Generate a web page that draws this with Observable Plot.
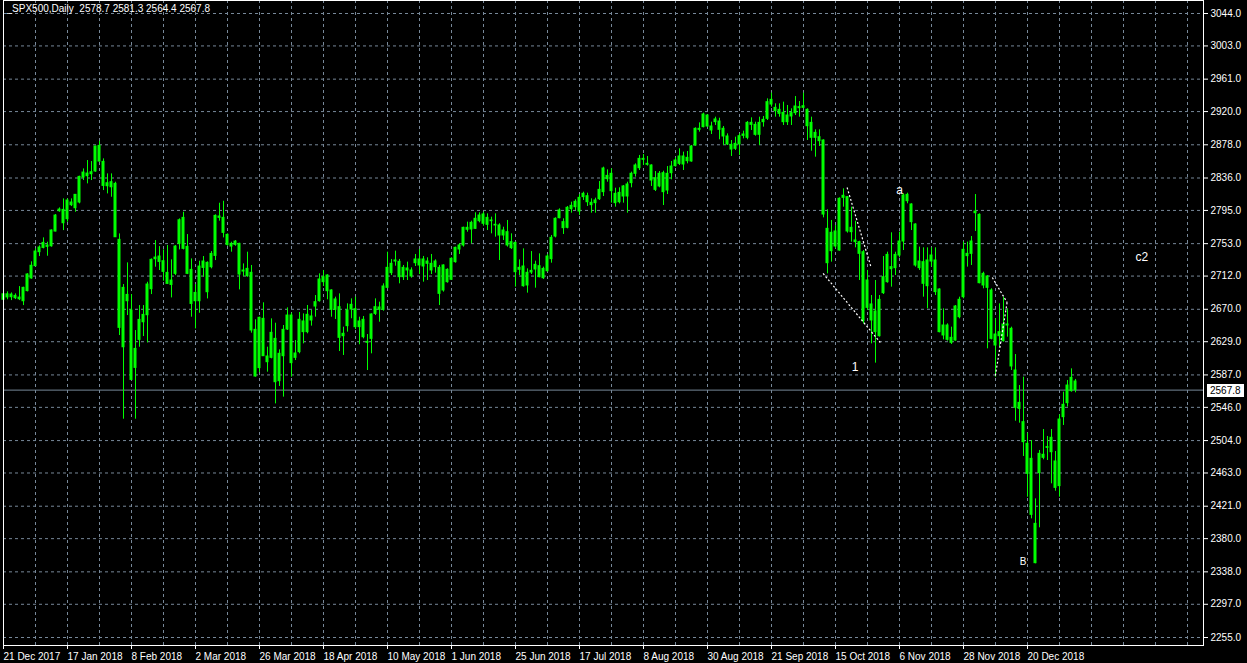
<!DOCTYPE html>
<html><head><meta charset="utf-8">
<script src="https://cdn.jsdelivr.net/npm/d3@7"></script>
<script src="https://cdn.jsdelivr.net/npm/@observablehq/plot@0.6"></script>
<style>
html,body{margin:0;padding:0;background:#000;overflow:hidden}
svg{display:block}
</style></head><body><div id="chart"></div>
<script>
// ---- data ----
const open = [2682,2685,2688.6,2684,2684.8,2680.2,2693,2709,2724.5,2742.2,2747.6,2750.6,2749.7,2768.3,2794,2795.7,2783.9,2801.6,2797.8,2805,2836.6,2841.6,2840.8,2844.2,2876.6,2856.4,2825.6,2830.7,2828.6,2757.8,2622,2688.2,2668.4,2595.9,2631.3,2653.6,2662.5,2695.4,2733.3,2736.7,2730.8,2716,2700.8,2714.8,2752.7,2785.6,2748.9,2719.8,2680.2,2680.2,2722.3,2691.6,2723.2,2737.5,2787.3,2785.6,2764.1,2749.3,2751.4,2752.7,2719,2711.8,2716.1,2644,2595.6,2657.9,2610.3,2608.6,2632.6,2579.1,2610.7,2644.4,2662.1,2608.6,2615.8,2654.6,2641.1,2660.9,2673.5,2680.3,2704.3,2712.7,2693.8,2669.3,2672.7,2636,2648.7,2669.7,2670.1,2647.4,2656.7,2627.6,2632.6,2664.2,2672.3,2669.3,2697.1,2715.7,2730.4,2730,2710.6,2721.6,2719.1,2728.3,2733,2724.1,2730.4,2727.5,2723.3,2722.4,2693.8,2719.9,2707.3,2729.6,2745.6,2750.7,2770.5,2770.9,2771.7,2781.4,2789.9,2776.8,2782.3,2776.8,2776,2763.3,2767.5,2747.3,2754,2719.9,2724.1,2700.1,2716.5,2720.3,2724.5,2709.3,2718.2,2733.4,2762,2785.2,2780.2,2773,2796.6,2799.1,2793.6,2811.8,2813,2804.6,2804.2,2809.2,2818.1,2838.7,2841.3,2816,2805.4,2825.3,2812.6,2829.5,2841.3,2848.4,2860.2,2853.9,2851.8,2835.8,2825.3,2842.1,2820.2,2842.1,2851,2853.9,2863.2,2857.3,2856.9,2877.1,2896.9,2900.3,2915,2901.1,2906.6,2907.4,2898.2,2888.5,2877.9,2872.9,2878.4,2889.3,2886.8,2903.2,2903.2,2890.6,2906.6,2910.8,2934.8,2924.7,2917.1,2918.4,2906.6,2913.8,2918,2925.6,2924.7,2922.2,2905.7,2886.8,2887.6,2883.4,2771.7,2743.5,2768.4,2744.3,2813.5,2811.8,2767.5,2757,2754.9,2742.2,2671.8,2676.1,2667.2,2636,2690.4,2704.3,2723.3,2722,2738,2755.7,2814.7,2802.5,2777.2,2730.4,2729.6,2699.2,2730.4,2731.7,2695,2636.9,2649.5,2627.6,2630.5,2660,2685.3,2740.1,2740.1,2791.5,2789.4,2700.1,2711.5,2693.8,2624.2,2641.1,2629.7,2650.8,2645.3,2592.6,2551.7,2527.3,2499.9,2480.9,2398.7,2462.8,2486,2494.8,2489.3,2477.6,2446.4,2533.6,2551.3,2566.5,2578.7];
const high = [2696,2692,2690.7,2689.5,2698.7,2697.9,2715,2730,2746.4,2750.2,2760.3,2754.8,2770.4,2789.8,2798.2,2809.6,2809.6,2809.6,2815.1,2838.3,2847.5,2858.1,2856.8,2876.2,2882.5,2860.2,2841.2,2841.2,2830.7,2765.3,2701.3,2728.7,2688.6,2643.1,2674.7,2674.7,2704.2,2733.7,2756.9,2749.3,2745.1,2750.6,2732.5,2750.6,2784.3,2792.7,2764.5,2733.7,2701.3,2730.8,2736.7,2730,2743,2789.4,2804.1,2806.6,2765.3,2754.8,2756.9,2753.5,2727.4,2742.2,2725.4,2656.7,2660,2678.2,2622.1,2657.9,2652.4,2618.7,2649.5,2671.8,2665.1,2630.5,2665.9,2664.2,2674.8,2668.5,2687.4,2714.8,2719.1,2713.6,2694.6,2685.3,2689.5,2647.4,2676.9,2683.2,2685.3,2660,2660.9,2638.1,2664.2,2683.2,2679,2702.2,2742.2,2733,2743.5,2733,2725.4,2729.6,2722.4,2739.3,2745.6,2736.8,2735.1,2739.3,2732.5,2725.4,2726.2,2721.2,2735.1,2748.6,2752.8,2773.8,2780.2,2781.4,2792,2792,2792.8,2790.7,2786.5,2790.7,2778.1,2773.8,2782.3,2765.4,2754.9,2732.5,2746.4,2721.1,2743,2730.8,2740.1,2723.3,2739.3,2763.3,2785.6,2797,2784.4,2800,2805.4,2808.4,2815.1,2818.1,2816.8,2809.7,2810.5,2831.6,2849.7,2846.3,2847.6,2823.1,2823.6,2826.5,2830.7,2843.4,2853.9,2864.5,2865.7,2863.2,2852.7,2844.2,2844.2,2844.6,2850.5,2856.9,2861.5,2872.9,2868.7,2869.5,2877.1,2899.4,2905.7,2918,2915.9,2906.6,2912.9,2911.6,2901.1,2891.8,2883.4,2887.6,2891.8,2895.2,2907.4,2912.1,2906.6,2912.9,2913.8,2936.1,2943.3,2929.8,2929.8,2931.9,2927.7,2923.5,2939,2932.7,2943.3,2923.5,2912.9,2896.9,2896.9,2884.3,2795.8,2782.3,2775.9,2810.9,2822.3,2812.6,2799.1,2781.4,2756.1,2744.3,2719.1,2687.4,2706.4,2687.4,2736.7,2742.2,2766.7,2742.2,2767.5,2816,2816.8,2803.4,2778.1,2748.6,2747.7,2747.7,2747.7,2747.7,2695.9,2670.6,2651.6,2647.4,2674.8,2685.3,2754.9,2754.9,2762,2815.1,2790.7,2716.9,2712.7,2695.9,2657.9,2676.9,2685.3,2670.6,2647.4,2612.8,2573.6,2584.2,2513.4,2504.1,2430.3,2491.5,2518,2509.2,2518,2490.2,2536.6,2565.2,2580,2594.7,2581.3];
const low = [2680,2682,2681,2682.3,2681,2674.7,2692,2708,2724,2736.7,2746.4,2737.1,2748.5,2767.9,2792.7,2769.5,2780.1,2799.9,2792.7,2803.3,2832.8,2828.6,2832.8,2843.3,2856,2820.1,2815.9,2811.7,2761,2636.8,2531,2662.1,2579.9,2531,2622,2635.5,2627.5,2688.6,2723.2,2719,2705.5,2701.3,2684.4,2712.6,2745.1,2745.1,2713.9,2660,2645.2,2665,2710.5,2683.1,2721.1,2731.6,2781.4,2760.3,2749.7,2742.2,2749.7,2694.5,2711.4,2710.5,2639.8,2584.2,2590,2610.3,2590.5,2607.3,2550.4,2572.4,2558.9,2643.2,2584.2,2605.2,2613.7,2626.3,2639,2648.7,2660,2679,2698.8,2682,2660,2657.1,2616.6,2611.6,2641.1,2658,2644.4,2625.1,2632.6,2592.6,2613.7,2662.1,2653.7,2667.6,2695.9,2712.7,2724.5,2702.2,2706.4,2706.4,2709.4,2724.1,2714,2704.3,2706.4,2714,2715.7,2674.8,2691.7,2703,2706.4,2728.3,2739.3,2748.6,2767.5,2752.8,2770.9,2779.3,2775.1,2769.6,2765.4,2761.2,2731.7,2757,2748.6,2745.6,2698,2712.7,2698,2690.4,2714,2696.7,2709.8,2707.7,2716.9,2728.3,2760.3,2784.4,2764.6,2771.7,2791.5,2794.9,2788.6,2807.6,2800,2791.5,2791.5,2807.6,2812.6,2830.7,2804.2,2799.1,2803.3,2804.2,2791.5,2823.6,2837.1,2845.5,2851.8,2851,2825.3,2818.9,2823.6,2801.2,2815.1,2833.7,2849.7,2851.8,2845.5,2853.9,2856,2876.2,2894,2899.4,2900.3,2891,2902.4,2884.3,2877.1,2877.1,2863.2,2870.8,2864.5,2885.5,2884.3,2896.1,2888.9,2877.1,2900.3,2908.7,2925.6,2912.9,2912.9,2902.4,2902.4,2902.4,2915,2912.9,2923.5,2883.4,2869.9,2862.3,2875.8,2785.6,2714.8,2729.6,2746.5,2743.5,2799.1,2766.3,2754.9,2747.7,2706.4,2651.6,2668.5,2626.3,2601.9,2634.8,2688.7,2703,2698,2712.7,2735.1,2744.3,2803.4,2769.6,2723.3,2719.1,2685.3,2670.6,2723.3,2687.4,2640.2,2631.4,2629.7,2625.5,2629.7,2657.9,2683.2,2723.3,2725.4,2768.4,2702.2,2695.9,2620,2631.4,2584.2,2622.1,2628.4,2634.8,2592.6,2528.5,2526,2483.9,2432.4,2405,2348.2,2393.7,2479.7,2478.8,2449.3,2440,2432.4,2523.1,2546.3,2565.2,2564.4];
const close = [2689,2689,2685.3,2687,2682.7,2697.1,2714,2725,2743,2748.1,2754,2748.9,2769.6,2788.5,2796.1,2778.8,2807.5,2805,2814.7,2837.4,2842.9,2838.3,2843.3,2875.8,2856.8,2826,2829.4,2824.3,2761.1,2646.5,2697.1,2680.2,2580.7,2619.9,2656.6,2662.9,2701.3,2732.5,2735.4,2729.9,2717.3,2702.1,2706.3,2749.3,2782.6,2746.4,2714.8,2676.8,2690.7,2724,2730.4,2728.7,2740,2788.1,2785.6,2766.6,2751.4,2752.7,2755.6,2713.9,2717.7,2721.1,2643.2,2585,2659.2,2610.7,2603.1,2640.2,2577.8,2613.7,2644,2662.1,2601.9,2614.1,2656.7,2641.1,2663,2655.8,2679,2707.7,2710.6,2692.9,2669.3,2682.4,2633.9,2639,2668.5,2675.6,2647.4,2654.6,2634.7,2628.8,2663.4,2672.7,2669.3,2698.8,2722.4,2727.5,2731.7,2710.6,2722.4,2719.1,2711.5,2733,2725.4,2733,2727.5,2719.1,2730.4,2689.5,2725.4,2704.3,2733.8,2747.7,2750.7,2773,2773,2779.3,2784.4,2788.6,2778.1,2785.6,2781.4,2776,2763.3,2769.6,2750.7,2754.9,2716.9,2722.4,2699.2,2716.1,2718.6,2726.2,2710.6,2721.1,2736.7,2760.3,2784.4,2794.9,2772.6,2798.3,2800.8,2805.9,2810.9,2816,2805.4,2801.7,2807.6,2821,2848,2834.5,2819.4,2804.2,2817.2,2812.6,2827.8,2841.3,2851.8,2860.2,2859,2852.7,2832.8,2821,2841.3,2818.1,2841.3,2850.5,2858.1,2863.2,2853.1,2861.5,2875.8,2898.2,2898.2,2916.3,2901.1,2896.1,2910,2896.9,2888.5,2878.4,2872,2879.2,2888.9,2891,2905.7,2905.7,2890.6,2905.7,2909.5,2931.9,2928.9,2920.5,2922.2,2906.6,2915,2918,2926.4,2924.3,2926.8,2901.5,2886.8,2893.1,2882.6,2789.8,2728.3,2766.7,2749.4,2809.7,2810.9,2768.4,2773,2754.9,2740.1,2654.9,2706.4,2655.8,2641.1,2681.9,2710.6,2738.8,2720.7,2738.8,2755.7,2813.9,2806.7,2780.2,2725.4,2722,2702.2,2731.7,2738,2691.7,2641.1,2649.5,2631.4,2633.9,2673.5,2682,2745.2,2737.2,2755.7,2793.6,2703,2714.8,2697.1,2632.6,2638.1,2636,2650.8,2649.5,2597.7,2545.4,2544.1,2502,2461.9,2410.1,2349,2487.2,2482.2,2495.7,2507.5,2444.2,2530.6,2549.2,2573.6,2583.3,2567.8];

const xTickIndex = [0,16,32,48,64,80,96,112,128,144,160,176,192,208,224,240,256];
const xTickLabels = ["21 Dec 2017","17 Jan 2018","8 Feb 2018","2 Mar 2018","26 Mar 2018","18 Apr 2018","10 May 2018","1 Jun 2018","25 Jun 2018","17 Jul 2018","8 Aug 2018","30 Aug 2018","21 Sep 2018","15 Oct 2018","6 Nov 2018","28 Nov 2018","20 Dec 2018"];
const yTicks = [3044,3003,2961,2920,2878,2836,2795,2753,2712,2670,2629,2587,2546,2504,2463,2421,2380,2338,2297,2255];

const titleText = "_SPX500,Daily\u00a0\u00a02578.7 2581.3 2564.4 2567.8";

// wave annotations (bar index / price)
const waveText = ["a","1","B","c2"];
const waveIdx = [224,212.9,254.9,284.6];
const wavePrice = [2820,2597,2350.5,2736];
const waveSize = [12,12,10,12];
const lineIdx1 = [204.9,210.9,247.2,250.9];
const linePrice1 = [2715.3,2824,2710.2,2678.6];
const lineIdx2 = [219.2,216.9,250.9,247.9];
const linePrice2 = [2628,2722.9,2678.6,2583.8];

// ---- build ----
const bars = open.map((o,i)=>({i, o, h:high[i], l:low[i], c:close[i]}));
const waves = waveText.map((t,k)=>({t, x:waveIdx[k], y:wavePrice[k], s:waveSize[k]}));
const links = lineIdx1.map((x1,k)=>({x1, y1:linePrice1[k], x2:lineIdx2[k], y2:linePrice2[k]}));
const last = close[close.length-1];
const GRID = "#778899", CANDLE = "#00ff00";
const gridIdx = d3.range(0, 300, 8);

const priceBox = (index, scales, values, dimensions) => {
  const y = Math.round(scales.y(last));
  const x = dimensions.width - dimensions.marginRight + 4;
  const g = d3.create("svg:g");
  g.append("rect").attr("x", x).attr("y", y-6).attr("width", 37).attr("height", 13).attr("fill", "#fff");
  g.append("text").attr("x", x+3).attr("y", y+0.5).attr("dy","0.35em")
    .attr("text-anchor","start").attr("fill","#000").attr("font-size",10).text(last.toFixed(1));
  return g.node();
};

const chart = Plot.plot({
  width: 1247, height: 663,
  marginLeft: 3, marginRight: 44, marginTop: 0, marginBottom: 18,
  style: {background: "#000", color: "#fff", fontFamily: "'Liberation Sans', Arial, sans-serif", fontSize: "10px"},
  x: {type: "linear", domain: [0, 300], range: [3, 1203], axis: null},
  y: {type: "linear", domain: [2255, 3044], range: [637, 13], axis: null},
  marks: [
    Plot.ruleX(gridIdx, {x: d=>d, stroke: GRID, strokeDasharray: "3,3"}),
    Plot.ruleY(yTicks, {y: d=>d, stroke: GRID, strokeDasharray: "3,3"}),
    Plot.ruleY([last], {y: d=>d, stroke: GRID}),
    Plot.ruleX(bars, {x: "i", y1: "l", y2: "h", stroke: CANDLE}),
    Plot.rect(bars, {x1: d=>d.i-0.375, x2: d=>d.i+0.375, y1: d=>Math.min(d.o,d.c), y2: d=>Math.max(d.o,d.c), fill: CANDLE, insetTop: -0.5, insetBottom: -0.5}),
    Plot.link(links, {x1: "x1", y1: "y1", x2: "x2", y2: "y2", stroke: "#fff", strokeWidth: 1.2, strokeDasharray: "2,2"}),
    Plot.text(waves, {x: "x", y: "y", text: "t", fill: "#fff", fontSize: d=>d.s, textAnchor: "middle"}),
    Plot.frame({stroke: "#fff"}),
    Plot.axisY(yTicks, {anchor: "right", tickSize: 4, tickPadding: 3, tickFormat: d=>d.toFixed(1), stroke: "#fff", fill: "#fff"}),
    Plot.axisX(xTickIndex, {anchor: "bottom", tickSize: 4, tickPadding: 3, tickFormat: d=>xTickLabels[xTickIndex.indexOf(d)], textAnchor: "start", stroke: "#fff", fill: "#fff"}),
    Plot.text([titleText], {frameAnchor: "top-left", dx: 3, dy: 4, text: d=>d, textAnchor: "start", lineAnchor: "top", fill: "#fff"}),
    priceBox
  ]
});
document.getElementById("chart").appendChild(chart);
</script>
</body></html>
